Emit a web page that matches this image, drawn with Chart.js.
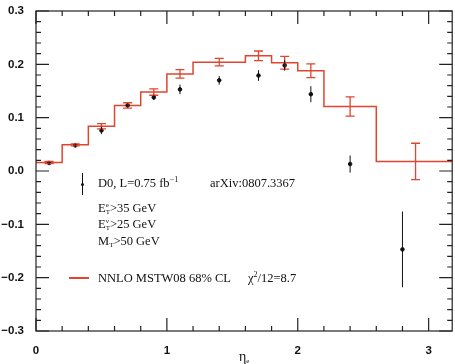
<!DOCTYPE html>
<html>
<head>
<meta charset="utf-8">
<script src="https://cdn.jsdelivr.net/npm/chart.js@4.4.0/dist/chart.umd.min.js"></script>
<style>
  html, body { margin: 0; padding: 0; background: #fff; }
  #wrap { position: relative; width: 455px; height: 364px; }
  #wrap canvas { position: absolute; left: 0; top: 0; }
  .txt { position: absolute; font-family: 'Liberation Serif', serif; font-size: 12.5px; line-height: 12px; color: #111; white-space: nowrap; }
  .sup { font-size: 8px; position: relative; top: -5px; }
  .ss { display: inline-block; font-size: 7px; line-height: 7px; vertical-align: -2px; }
  .ss span { display: block; }
  .sub { font-size: 7px; position: relative; top: 2px; }
  .mark { position: absolute; }
</style>
</head>
<body>
<div id="wrap">
  <canvas id="asym" width="455" height="364"></canvas>

  <div class="mark" style="left:82px; top:173px; width:1px; height:22px; background:#111;"></div>
  <div class="mark" style="left:81px; top:183px; width:3px; height:3px; border-radius:2px; background:#111;"></div>
  <div class="mark" style="left:69px; top:277px; width:20px; height:1.5px; background:#e0452f;"></div>

  <div class="txt" style="left:98px; top:177px;">D0, L=0.75 fb<span class="sup">&minus;1</span></div>
  <div class="txt" style="left:210px; top:177px;">arXiv:0807.3367</div>
  <div class="txt" style="left:98px; top:202px;">E<span class="ss"><span>e</span><span>T</span></span>&gt;35 GeV</div>
  <div class="txt" style="left:98px; top:218px;">E<span class="ss"><span>&nu;</span><span>T</span></span>&gt;25 GeV</div>
  <div class="txt" style="left:98px; top:234.5px;">M<span class="sub">T</span>&gt;50 GeV</div>
  <div class="txt" style="left:98px; top:272px;">NNLO MSTW08 68% CL</div>
  <div class="txt" style="left:248px; top:272px;">&chi;<span class="sup">2</span>/12=8.7</div>
  <div class="txt" style="left:239px; top:351px; font-size:14px;">&eta;<span class="sub">e</span></div>
</div>

<script>
// W charge asymmetry vs electron pseudorapidity

// theory histogram (NNLO MSTW08), bin edges and values
const binEdges = [0, 0.2, 0.4, 0.6, 0.8, 1.0, 1.2, 1.6, 1.8, 2.0, 2.2, 2.6, 3.2];
const theoryVal = [0.016, 0.049, 0.084, 0.123, 0.148, 0.182, 0.204, 0.216, 0.203, 0.188, 0.121, 0.018];
const theoryX = [0.1, 0.3, 0.5, 0.7, 0.9, 1.1, 1.4, 1.7, 1.9, 2.1, 2.4, 2.9];
const theoryErr = [0.002, 0.002, 0.005, 0.005, 0.006, 0.008, 0.007, 0.009, 0.012, 0.013, 0.018, 0.034];

// D0 data
const dataX = [0.1, 0.3, 0.5, 0.7, 0.9, 1.1, 1.4, 1.7, 1.9, 2.1, 2.4, 2.8];
const dataY = [0.015, 0.048, 0.076, 0.123, 0.138, 0.153, 0.170, 0.179, 0.198, 0.144, 0.013, -0.147];
const dataErr = [0.003, 0.003, 0.007, 0.004, 0.005, 0.009, 0.008, 0.010, 0.010, 0.015, 0.016, 0.071];

const red = '#e0452f';
const ink = '#111';

const stepPoints = binEdges.map((x, i) => ({ x: x, y: theoryVal[Math.min(i, theoryVal.length - 1)] }));
const dataPoints = dataX.map((x, i) => ({ x: x, y: dataY[i] }));

// error bars for both series
const errorBars = {
    id: 'errorBars',
    afterDatasetsDraw(chart) {
        const xs = chart.scales.x, ys = chart.scales.y;
        const ctx = chart.ctx;
        ctx.save();
        ctx.lineWidth = 1.3;
        ctx.strokeStyle = red;
        theoryX.forEach((x, i) => {
            const px = xs.getPixelForValue(x);
            const y1 = ys.getPixelForValue(theoryVal[i] + theoryErr[i]);
            const y2 = ys.getPixelForValue(theoryVal[i] - theoryErr[i]);
            ctx.beginPath();
            ctx.moveTo(px, y1); ctx.lineTo(px, y2);
            ctx.moveTo(px - 4.5, y1); ctx.lineTo(px + 4.5, y1);
            ctx.moveTo(px - 4.5, y2); ctx.lineTo(px + 4.5, y2);
            ctx.stroke();
        });
        ctx.lineWidth = 1;
        ctx.strokeStyle = ink;
        dataX.forEach((x, i) => {
            const px = xs.getPixelForValue(x);
            ctx.beginPath();
            ctx.moveTo(px, ys.getPixelForValue(dataY[i] + dataErr[i]));
            ctx.lineTo(px, ys.getPixelForValue(dataY[i] - dataErr[i]));
            ctx.stroke();
        });
        ctx.restore();
    }
};

// frame with inward major/minor ticks on all four sides
const frameTicks = {
    id: 'frameTicks',
    afterDraw(chart) {
        const xs = chart.scales.x, ys = chart.scales.y;
        const a = chart.chartArea;
        const ctx = chart.ctx;
        ctx.save();
        ctx.strokeStyle = '#222';
        ctx.lineWidth = 1.2;
        ctx.strokeRect(a.left, a.top, a.right - a.left, a.bottom - a.top);
        ctx.beginPath();
        for (let k = 0; k <= 16; k++) {
            const v = k * 0.2;
            if (v > xs.max) break;
            const px = xs.getPixelForValue(v);
            const len = (k % 5 === 0) ? 13 : 5;
            ctx.moveTo(px, a.bottom); ctx.lineTo(px, a.bottom - len);
            ctx.moveTo(px, a.top); ctx.lineTo(px, a.top + len);
        }
        for (let k = -15; k <= 15; k++) {
            const py = ys.getPixelForValue(k * 0.02);
            const len = (k % 5 === 0) ? 13 : 5;
            ctx.moveTo(a.left, py); ctx.lineTo(a.left + len, py);
            ctx.moveTo(a.right, py); ctx.lineTo(a.right - len, py);
        }
        ctx.stroke();
        ctx.restore();
    }
};

const tickFont = { family: "'Liberation Sans', Arial, sans-serif", size: 11.5, weight: 'bold' };

new Chart(document.getElementById('asym').getContext('2d'), {
    type: 'scatter',
    data: {
        datasets: [{
            label: 'D0, L=0.75 fb-1',
            data: dataPoints,
            backgroundColor: ink,
            borderColor: ink,
            pointRadius: 1.8,
            pointHoverRadius: 1.8
        }, {
            type: 'line',
            label: 'NNLO MSTW08 68% CL',
            data: stepPoints,
            stepped: 'before',
            borderColor: red,
            borderWidth: 1.5,
            pointRadius: 0,
            fill: false
        }]
    },
    options: {
        responsive: false,
        animation: false,
        events: [],
        layout: { padding: { top: 11, right: 1.5, left: 0, bottom: 0 } },
        plugins: {
            legend: { display: false },
            tooltip: { enabled: false }
        },
        scales: {
            x: {
                type: 'linear',
                min: 0,
                max: 3.18,
                grid: { display: false },
                border: { display: false },
                ticks: {
                    stepSize: 1,
                    includeBounds: false,
                    padding: 5,
                    color: ink,
                    font: tickFont,
                    maxRotation: 0
                },
                afterFit(scale) { scale.height = 33; }
            },
            y: {
                min: -0.3,
                max: 0.3,
                grid: { display: false },
                border: { display: false },
                ticks: {
                    stepSize: 0.1,
                    padding: 4,
                    color: ink,
                    font: tickFont,
                    callback: v => Math.abs(v) < 1e-9 ? '0.0' : v.toFixed(1).replace('-', '\u2212')
                },
                afterFit(scale) { scale.width = 36; }
            }
        }
    },
    plugins: [errorBars, frameTicks]
});
</script>
</body>
</html>
